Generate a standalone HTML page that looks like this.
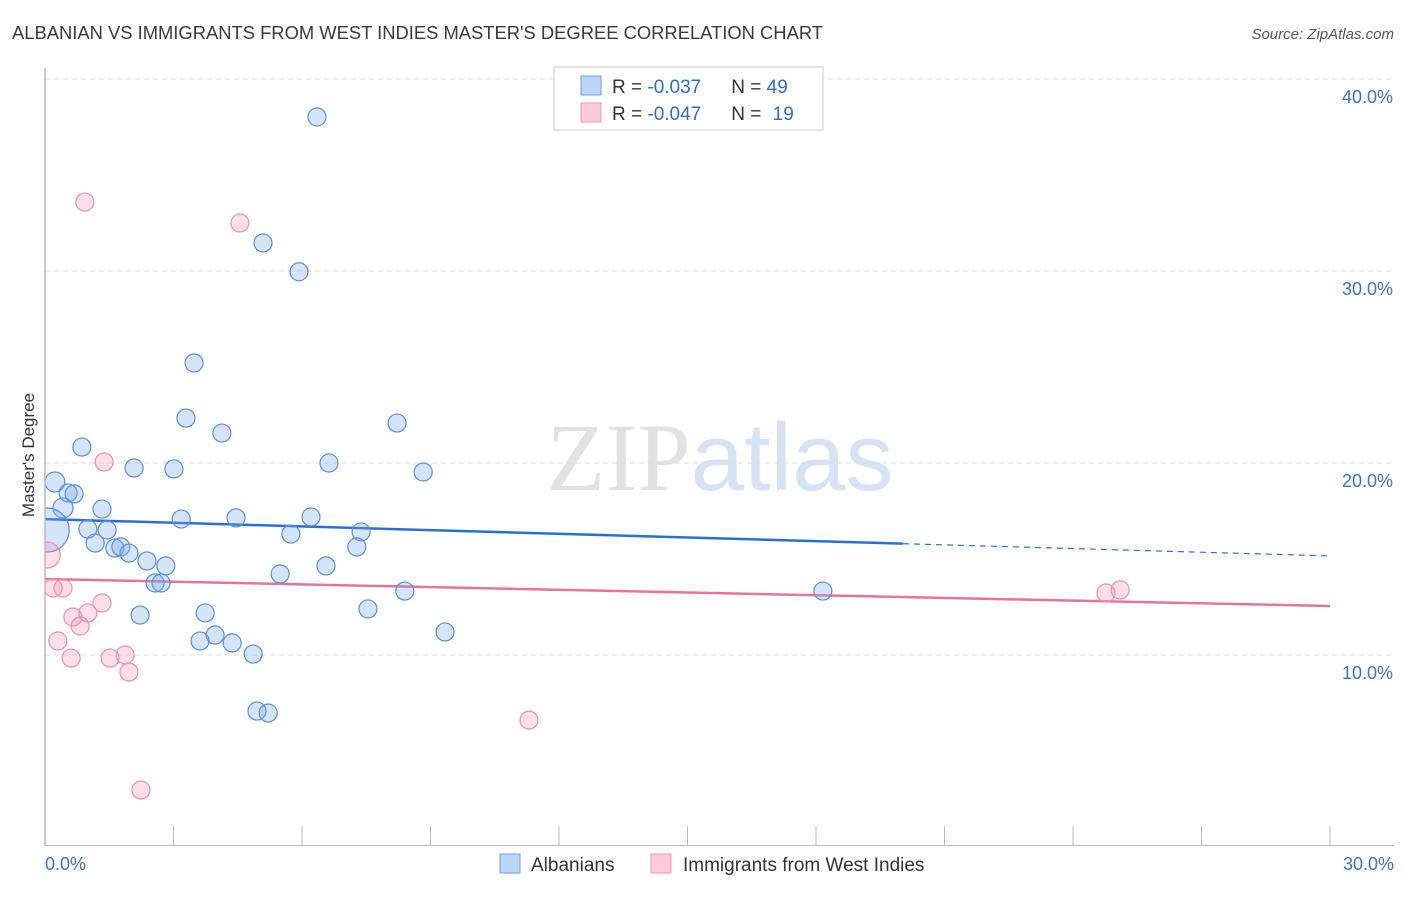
<!DOCTYPE html>
<html><head><meta charset="utf-8"><style>
body{margin:0;background:#fff;font-family:"Liberation Sans",sans-serif;}
svg text{font-family:"Liberation Sans",sans-serif;}
</style></head><body>
<svg id="chart" width="1406" height="892" xmlns="http://www.w3.org/2000/svg">
<defs><clipPath id="plotclip"><rect x="45" y="60" width="1360" height="786"/></clipPath></defs>
<text x="12" y="39" font-size="18" fill="#3a3a3a" textLength="811" lengthAdjust="spacingAndGlyphs">ALBANIAN VS IMMIGRANTS FROM WEST INDIES MASTER'S DEGREE CORRELATION CHART</text>
<text x="1394" y="39" font-size="15" fill="#555" text-anchor="end" font-style="italic">Source: ZipAtlas.com</text>
<text x="720" y="490" font-size="96" text-anchor="middle"><tspan fill="#e2e2e2" font-family="Liberation Serif">ZIP</tspan><tspan fill="#d6e3f5">atlas</tspan></text>
<text transform="translate(34,455) rotate(-90)" font-size="17" fill="#333" text-anchor="middle">Master's Degree</text>
<g id="grid"></g><g id="xticks"></g><g id="trends"></g><g id="points" clip-path="url(#plotclip)"></g>
<line x1="45" y1="68" x2="45" y2="846" stroke="#bbb" stroke-width="1.5"/>
<line x1="45" y1="845.5" x2="1394" y2="845.5" stroke="#bbb" stroke-width="1"/>
<text x="45" y="870" font-size="18" fill="#3b73c8">0.0%</text>
<text x="1394" y="870" font-size="18" fill="#3b73c8" text-anchor="end">30.0%</text>
<g>
<rect x="554" y="67" width="269" height="63" fill="#fff" stroke="#ccc"/>
<rect x="581" y="76" width="20" height="19" fill="#bcd4f5" stroke="#6f9fe0"/>
<rect x="581" y="103" width="20" height="19" fill="#fbcbd8" stroke="#eb9ab2"/>
<text x="612" y="93" font-size="19" fill="#333">R = <tspan fill="#2f6bd1">-0.037</tspan><tspan dx="30">N = </tspan><tspan fill="#2f6bd1">49</tspan></text>
<text x="612" y="120" font-size="19" fill="#333">R = <tspan fill="#2f6bd1">-0.047</tspan><tspan dx="30">N = </tspan><tspan fill="#2f6bd1" dx="6">19</tspan></text>
</g>
<g>
<rect x="500" y="854" width="20" height="19" fill="#bcd4f5" stroke="#6f9fe0"/>
<text x="531" y="871" font-size="19" fill="#333">Albanians</text>
<rect x="651" y="854" width="20" height="19" fill="#fbcbd8" stroke="#eb9ab2"/>
<text x="683" y="871" font-size="19" fill="#333">Immigrants from West Indies</text>
</g>
</svg>
<script>
const yTicks=[10,20,30,40];
const yTickLabels=["10.0%","20.0%","30.0%","40.0%"];
const xTicks=[0,3,6,9,12,15,18,21,24,27,30];
const blueX=[6.35,5.09,5.93,3.48,3.29,4.13,0.86,8.22,6.63,8.83,2.08,3.01,0.23,0.54,0.68,0.42,1.33,3.18,4.46,6.21,1.0,1.45,5.74,7.38,1.17,1.63,1.77,1.96,7.28,2.38,2.82,6.56,5.49,2.57,2.71,8.4,18.16,2.22,3.74,7.54,9.34,3.97,3.62,4.37,4.86,4.95,5.21,0.05];
const blueY=[38.02,31.46,29.96,25.21,22.34,21.56,20.83,22.08,20.0,19.53,19.74,19.69,19.01,18.44,18.39,17.66,17.6,17.08,17.14,17.19,16.56,16.51,16.3,16.41,15.83,15.57,15.63,15.31,15.63,14.9,14.64,14.64,14.22,13.75,13.75,13.33,13.33,12.08,12.19,12.4,11.2,11.04,10.73,10.63,10.05,7.08,6.98,16.51];
const blueR=[9,9,9,9,9,9,9,9,9,9,9,9,10,9,9,10,9,9,9,9,9,9,9,9,9,9,9,9,9,9,9,9,9,9,9,9,9,9,9,9,9,9,9,9,9,9,9,22];
const pinkX=[0.93,4.55,1.38,0.05,0.19,0.42,0.65,1.0,0.82,1.33,0.3,0.61,1.52,1.87,1.96,11.3,2.24,24.77,25.1];
const pinkY=[33.59,32.5,20.05,15.21,13.49,13.49,11.98,12.19,11.51,12.71,10.73,9.84,9.84,10.0,9.11,6.61,2.97,13.23,13.39];
const pinkR=[9,9,9,13,9,9,9,9,9,9,9,9,9,9,9,9,9,9,9];
const blueTrend=[17.08,15.16]; const blueSolidEnd=20.03;
const pinkTrend=[13.96,12.55];
const X=v=>45+v/30*1285, Y=v=>847-v*19.2;
const NS="http://www.w3.org/2000/svg";
function mk(parent,tag,attrs){const e=document.createElementNS(NS,tag);for(const k in attrs)e.setAttribute(k,attrs[k]);document.getElementById(parent).appendChild(e);return e;}
yTicks.forEach((t,i)=>{
 const l=mk('grid','line',{x1:45,x2:1394,y1:Y(t),y2:Y(t),stroke:'#ddd','stroke-dasharray':'5,4'});
 
 
 const tx=mk('grid','text',{x:1393,y:Y(t)+24,'font-size':18,fill:'#3b73c8','text-anchor':'end'});
 tx.textContent=yTickLabels[i];
 
 
});
xTicks.forEach(t=>{
 const l=mk('xticks','line',{x1:X(t),x2:X(t),y1:826,y2:845,stroke:'#bbb'});
 
 
});
function trend(vals,col,solidEnd,name){
 const f=x=>vals[0]+(vals[1]-vals[0])*x/30;
 const l=mk('trends','line',{x1:X(0),y1:Y(f(0)),x2:X(solidEnd),y2:Y(f(solidEnd)),stroke:col,'stroke-width':2.5});
 
 
 if(solidEnd<30){const d=mk('trends','line',{x1:X(solidEnd),y1:Y(f(solidEnd)),x2:X(30),y2:Y(f(30)),stroke:col,'stroke-width':1.2,'stroke-dasharray':'6,5'});
 
 }
}
trend(blueTrend,'#2a6fd6',blueSolidEnd,'albanians-trend-line');
trend(pinkTrend,'#e8739b',30,'west-indies-trend-line');
blueX.forEach((x,i)=>{
 const c=mk('points','circle',{cx:X(x),cy:Y(blueY[i]),r:blueR[i],fill:'rgba(120,165,230,0.3)',stroke:'#5b8fdc','stroke-width':1.2});
 
 
});
pinkX.forEach((x,i)=>{
 const c=mk('points','circle',{cx:X(x),cy:Y(pinkY[i]),r:pinkR[i],fill:'rgba(245,150,180,0.3)',stroke:'#eb92ae','stroke-width':1.2});
 
 
});
</script>
</body></html>
